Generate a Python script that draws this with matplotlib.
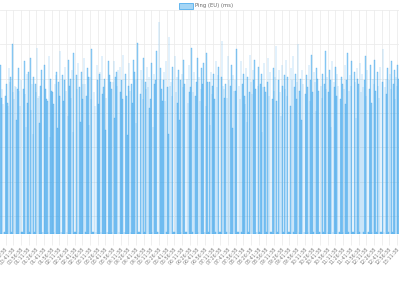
import matplotlib
matplotlib.use("Agg")
import matplotlib.pyplot as plt
from matplotlib.patches import Rectangle

legend_label = "Ping (EU) (ms)"

ping_ms = [
    108, 89, 94, 85, 0, 0, 90, 97, 86, 84, 106, 98,
    101, 0, 120, 92, 88, 96, 95, 76, 94, 106, 93, 84,
    99, 0, 0, 94, 110, 91, 72, 103, 86, 104, 0, 112,
    82, 97, 68, 101, 0, 97, 92, 118, 89, 90, 74, 96,
    105, 0, 0, 99, 108, 94, 88, 87, 0, 113, 66, 100,
    93, 92, 85, 0, 97, 102, 104, 71, 98, 90, 116, 0,
    0, 102, 87, 99, 107, 93, 0, 78, 111, 96, 100, 89,
    105, 69, 115, 0, 0, 102, 94, 109, 0, 95, 75, 104,
    88, 97, 112, 97, 0, 90, 106, 101, 73, 101, 88, 117,
    0, 0, 92, 84, 0, 108, 99, 85, 103, 104, 0, 113,
    91, 95, 100, 70, 89, 0, 0, 110, 102, 98, 94, 0,
    98, 110, 77, 101, 104, 96, 105, 0, 107, 92, 99, 88,
    114, 0, 0, 103, 90, 67, 96, 109, 93, 0, 97, 86,
    111, 104, 99, 74, 100, 121, 0, 0, 91, 105, 99, 88,
    112, 0, 98, 94, 107, 95, 101, 83, 88, 109, 0, 72,
    103, 97, 99, 116, 0, 0, 133, 100, 106, 94, 87, 99,
    104, 87, 110, 0, 95, 68, 124, 96, 98, 90, 107, 0,
    0, 113, 92, 101, 86, 105, 76, 99, 0, 103, 95, 111,
    97, 0, 0, 100, 86, 108, 92, 95, 118, 0, 92, 104,
    70, 90, 98, 112, 0, 101, 87, 94, 106, 97, 109, 0,
    0, 84, 115, 98, 0, 98, 73, 104, 91, 96, 103, 88,
    0, 110, 95, 102, 107, 0, 0, 101, 122, 96, 94, 89,
    97, 0, 89, 113, 99, 0, 96, 108, 71, 102, 93, 99,
    93, 117, 0, 0, 96, 88, 110, 0, 97, 103, 90, 85,
    106, 75, 101, 0, 92, 114, 98, 91, 105, 99, 111, 94,
    0, 0, 96, 107, 0, 97, 103, 69, 95, 109, 95, 92,
    0, 98, 112, 90, 104, 0, 0, 88, 106, 93, 101, 119,
    87, 0, 99, 105, 92, 78, 108, 96, 0, 102, 94, 111,
    90, 101, 0, 0, 84, 106, 99, 113, 0, 95, 103, 88,
    98, 120, 0, 93, 100, 76, 105, 97, 0, 0, 91, 102,
    95, 0, 108, 87, 99, 114, 92, 0, 104, 98, 81, 106,
    100, 93, 0, 0, 96, 89, 103, 0, 97, 116, 94, 101,
    0, 92, 105, 99, 72, 110, 0, 98, 95, 107, 90, 103,
    96, 0, 0, 88, 101, 97, 0, 94, 108, 85, 99, 115,
    0, 93, 102, 96, 110, 0, 0, 104, 98, 77, 106, 100,
    97, 0, 109, 92, 103, 95, 0, 99, 113, 90, 105, 0,
    0, 94, 108, 86, 0, 100, 97, 111, 93, 0, 104, 96,
    89, 107, 0, 0, 98, 117, 0, 95, 100, 91, 106, 0,
    99, 103, 94, 110, 0, 97, 105, 88, 101, 96, 108, 100,
]

tick_labels = [
    "00:26:38", "00:41:38", "00:56:38", "01:11:38", "01:26:38", "01:41:38",
    "01:56:38", "02:11:38", "02:26:38", "02:41:38", "02:56:38", "03:11:38",
    "03:26:38", "03:41:38", "03:56:38", "04:11:38", "04:26:38", "04:41:38",
    "04:56:38", "05:11:38", "05:26:38", "05:41:38", "05:56:38", "06:11:38",
    "06:26:38", "06:41:38", "06:56:38", "07:11:38", "07:26:38", "07:41:38",
    "07:56:38", "08:11:38", "08:26:38", "08:41:38", "08:56:38", "09:11:38",
    "09:26:38", "09:41:38", "09:56:38", "10:11:38", "10:26:38", "10:41:38",
    "10:56:38", "11:11:38", "11:26:38", "11:41:38", "11:56:38", "12:11:38",
    "12:26:38", "12:41:38", "12:56:38", "13:11:38",
]

blue = (54 / 255, 162 / 255, 235 / 255)
fill = blue + (0.45,)
grid_col = "#ececec"

fig = plt.figure(figsize=(3.99, 3.0), dpi=100)
ax = fig.add_axes([0.0, (300 - 234) / 300, 1.0, (234 - 10) / 300])

y_min, y_max = 9.5, 140
floor = 10.6  # timeouts (0 ms) show as a thin stub on the base line

n = len(ping_ms)
xs = list(range(n))
heights = [max(v, floor) - y_min for v in ping_ms]
ax.bar(xs, heights, width=0.62, bottom=y_min, color=fill,
       edgecolor=blue, linewidth=0.2, zorder=2)
ax.set_xlim(-0.5, n - 0.5)
ax.set_ylim(y_min, y_max)

step = n // len(tick_labels)
tick_pos = [6 + i * step for i in range(len(tick_labels))]
ax.set_xticks(tick_pos)
ax.set_xticklabels(tick_labels, rotation=48, ha="right", rotation_mode="anchor",
                   fontsize=3.4, color="#808080")
ax.set_yticks([20, 40, 60, 80, 100, 120, 140])
ax.set_yticklabels([])
ax.tick_params(axis="y", length=0)
ax.tick_params(axis="x", length=8, width=0.6, color=grid_col, pad=1)
ax.grid(True, color=grid_col, linewidth=0.6, zorder=0)
ax.set_axisbelow(True)
for s in ax.spines.values():
    s.set_visible(False)

# legend
fig.patches.append(Rectangle((179 / 399, 1 - 8.5 / 300), 14 / 399, 5 / 300,
                             transform=fig.transFigure, facecolor=fill,
                             edgecolor=blue, linewidth=0.5))
fig.text(195 / 399, 1 - 6 / 300, legend_label, fontsize=3.8, color="#666666",
         va="center", ha="left")

fig.savefig("out.png", dpi=100)
